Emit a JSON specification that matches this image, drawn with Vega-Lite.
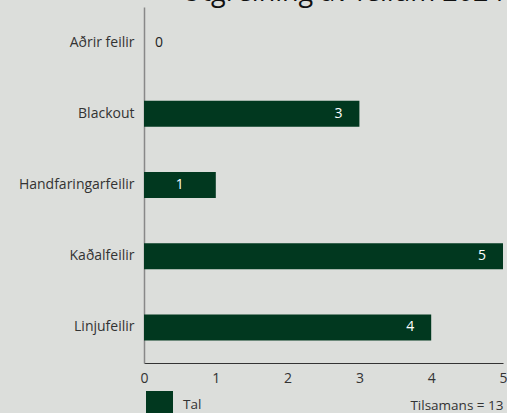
{
  "$schema": "https://vega.github.io/schema/vega-lite/v6.json",
  "width": 359,
  "height": 356,
  "autosize": "none",
  "padding": {"left": 144, "top": 7, "right": 4, "bottom": 50},
  "background": "#dcdedb",
  "title": {
    "text": "Útgreining av feilum 2024",
    "anchor": "end",
    "fontSize": 27,
    "fontWeight": "normal",
    "font": "Open Sans",
    "color": "#111111",
    "offset": 0,
    "dx": -3
  },
  "config": {
    "view": {"stroke": null},
    "font": "Open Sans",
    "text": {"font": "Open Sans"}
  },
  "data": {
    "values": [
      {"kategori": "Aðrir feilir", "tal": 0},
      {"kategori": "Blackout", "tal": 3},
      {"kategori": "Handfaringarfeilir", "tal": 1},
      {"kategori": "Kaðalfeilir", "tal": 5},
      {"kategori": "Linjufeilir", "tal": 4}
    ]
  },
  "encoding": {
    "y": {
      "field": "kategori",
      "type": "nominal",
      "sort": null,
      "scale": {"paddingInner": 0.635, "paddingOuter": 0.3175},
      "axis": {
        "title": null,
        "ticks": false,
        "labelPadding": 10,
        "labelFontSize": 14,
        "labelColor": "#333333",
        "labelFont": "Open Sans",
        "domainColor": "#888888",
        "domainWidth": 1.5
      }
    },
    "x": {
      "field": "tal",
      "type": "quantitative",
      "scale": {"domain": [0, 5], "nice": false},
      "axis": {
        "title": "Tilsamans = 13",
        "titleAnchor": "end",
        "titleAlign": "right",
        "titleFontWeight": "normal",
        "titleFontSize": 13.5,
        "titleColor": "#333333",
        "titleFont": "Open Sans",
        "titlePadding": 13,
        "grid": false,
        "ticks": false,
        "tickCount": 5,
        "labelPadding": 8,
        "labelFontSize": 14,
        "labelColor": "#333333",
        "labelFont": "Open Sans",
        "domainColor": "#333333",
        "labelFlush": false
      }
    }
  },
  "layer": [
    {
      "mark": {"type": "bar"},
      "encoding": {
        "color": {
          "datum": "Tal",
          "type": "nominal",
          "scale": {"range": ["#01381f"]},
          "legend": {
            "title": null,
            "orient": "none",
            "legendX": 2,
            "legendY": 384,
            "symbolType": "square",
            "symbolSize": 729,
            "symbolStrokeWidth": 0,
            "symbolOpacity": 1,
            "labelFontSize": 13.5,
            "labelColor": "#333333",
            "labelFont": "Open Sans",
            "labelOffset": 10
          }
        }
      }
    },
    {
      "transform": [{"filter": "datum.tal >= 2"}],
      "mark": {"type": "text", "dx": -21, "align": "center", "baseline": "middle", "color": "white", "fontSize": 14},
      "encoding": {"text": {"field": "tal", "type": "quantitative"}}
    },
    {
      "transform": [{"filter": "datum.tal == 1"}],
      "mark": {"type": "text", "dx": -36, "align": "center", "baseline": "middle", "color": "white", "fontSize": 14},
      "encoding": {"text": {"field": "tal", "type": "quantitative"}}
    },
    {
      "transform": [{"filter": "datum.tal == 0"}],
      "mark": {"type": "text", "dx": 15, "align": "center", "baseline": "middle", "color": "#222222", "fontSize": 14},
      "encoding": {"text": {"field": "tal", "type": "quantitative"}}
    }
  ]
}
